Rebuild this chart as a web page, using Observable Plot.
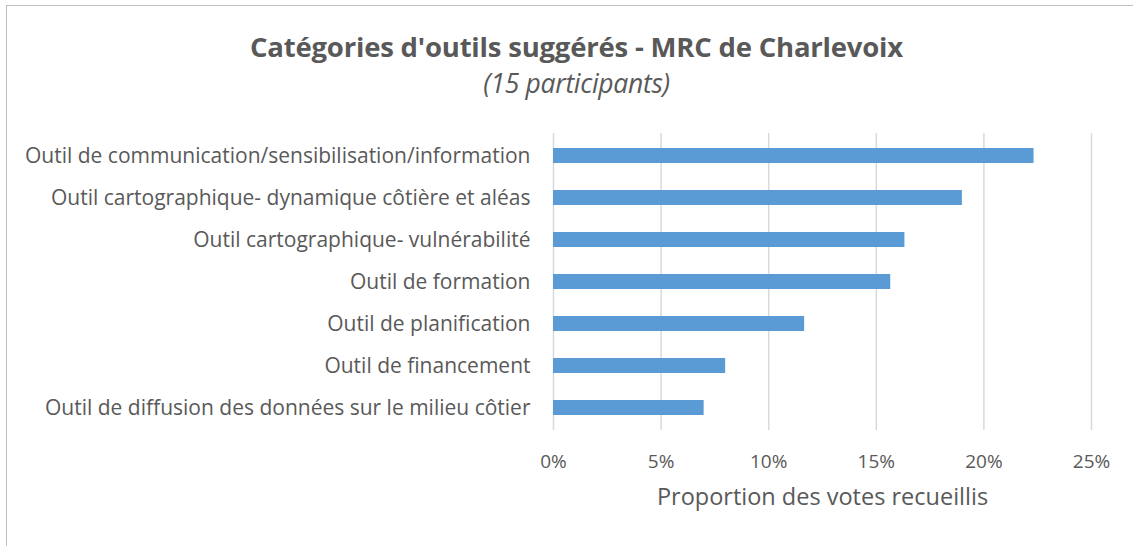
<!DOCTYPE html>
<html>
<head>
<meta charset="utf-8">
<script src="https://cdn.jsdelivr.net/npm/d3@7"></script>
<script src="https://cdn.jsdelivr.net/npm/@observablehq/plot@0.6"></script>
<style>
  html, body { margin: 0; padding: 0; background: #fff; overflow: hidden; }
  #wrap { position: relative; width: 1133px; height: 546px; font-family: "Open Sans", sans-serif; color: #595959; }
  #frame { position: absolute; left: 6px; top: 5px; width: 1200px; height: 600px; border-left: 1.5px solid #bfbfbf; border-top: 1.5px solid #bfbfbf; }
  #title { position: absolute; left: 0; width: 1153px; top: 27px; text-align: center; font-weight: bold; font-size: 27.5px; line-height: 40px; letter-spacing: -0.2px; }
  #subtitle { position: absolute; left: 0; width: 1153px; top: 64px; text-align: center; font-style: italic; font-size: 26.5px; line-height: 38px; letter-spacing: -0.3px; }
  #chart { position: absolute; left: 0; top: 110px; }
</style>
</head>
<body>
<div id="wrap">
  <div id="frame"></div>
  <div id="title">Catégories d'outils suggérés - MRC de Charlevoix</div>
  <div id="subtitle">(15 participants)</div>
  <div id="chart"></div>
</div>
<script>
const categories = [
  "Outil de communication/sensibilisation/information",
  "Outil cartographique- dynamique côtière et aléas",
  "Outil cartographique- vulnérabilité",
  "Outil de formation",
  "Outil de planification",
  "Outil de financement",
  "Outil de diffusion des données sur le milieu côtier"
];
const values = [22.33, 19.0, 16.33, 15.67, 11.67, 8.0, 7.0];
const xTicks = [0, 5, 10, 15, 20, 25];
const xLabel = "Proportion des votes recueillis";

const data = categories.map((c, i) => ({category: c, value: values[i]}));

const chart = Plot.plot({
  width: 1133,
  height: 436,
  marginLeft: 553,
  marginRight: 42,
  marginTop: 23,
  marginBottom: 116,
  style: {fontFamily: "'Open Sans', sans-serif", fontSize: "19px", color: "#595959", background: "transparent"},
  x: {domain: [0, 25], ticks: xTicks, tickFormat: d => d + "%", label: null},
  y: {domain: categories, label: null, paddingInner: 0.64, paddingOuter: 0.33},
  marks: [
    Plot.gridX(xTicks, {stroke: "#d9d9d9", strokeOpacity: 1, strokeWidth: 1.5}),
    Plot.barX(data, {x: "value", y: "category", fill: "#5b9bd5"}),
    Plot.axisX({ticks: xTicks, tickFormat: d => d + "%", tickSize: 0, tickPadding: 24, label: null}),
    Plot.axisY({tickSize: 0, tickPadding: 23, label: null, fontSize: 21}),
    Plot.text([xLabel], {frameAnchor: "bottom", dy: 74, fontSize: 23.5, text: d => d, fill: "#595959"})
  ]
});
document.getElementById("chart").appendChild(chart);
</script>
</body>
</html>
